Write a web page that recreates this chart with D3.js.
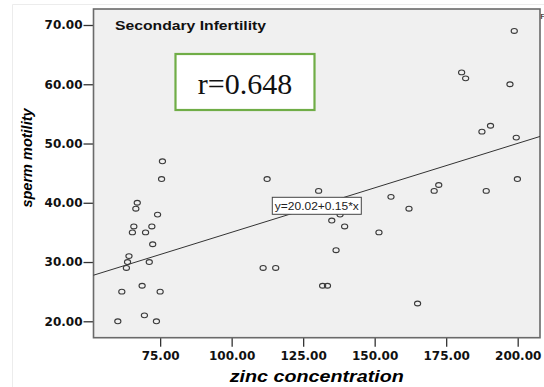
<!DOCTYPE html>
<html>
<head>
<meta charset="utf-8">
<script src="https://d3js.org/d3.v7.min.js"></script>
<style>
  body { margin: 0; background: #ffffff; }
</style>
</head>
<body>
<div id="my_dataviz"></div>
<script>
// data
var zinc = [60.2, 61.6, 63.2, 63.6, 64.1, 65.3, 65.8, 66.5, 67.0, 68.7,
            69.5, 69.9, 71.2, 72.1, 72.4, 73.7, 74.1, 75.0, 75.5, 75.8,
            111.0, 112.4, 115.4, 130.4, 131.8, 133.5, 135.0, 136.5, 137.9, 139.5,
            151.5, 155.7, 162.0, 165.0, 170.8, 172.4, 180.4, 181.8, 187.5, 189.0,
            190.5, 197.3, 198.8, 199.5, 199.9];
var motility = [20, 25, 29, 30, 31, 35, 36, 39, 40, 26,
                21, 35, 30, 36, 33, 20, 38, 25, 44, 47,
                29, 44, 29, 42, 26, 26, 37, 32, 38, 36,
                35, 41, 39, 23, 42, 43, 62, 61, 52, 42,
                53, 60, 69, 51, 44];
var xTicks = [75, 100, 125, 150, 175, 200];
var yTicks = [20, 30, 40, 50, 60, 70];
var fitIntercept = 20.02;
var fitSlope = 0.15;
var fitLabel = "y=20.02+0.15*x";
var rLabel = "r=0.648";
var groupTitle = "Secondary Infertility";
var xScaleTitle = "zinc concentration";
var yScaleTitle = "sperm motility";

var width = 544, height = 387;
var plot = {left: 93.5, right: 540, top: 9, bottom: 337.7};

var svg = d3.select("#my_dataviz")
  .append("svg")
    .attr("width", width)
    .attr("height", height);

// faint outer border of the original picture
svg.append("path")
  .attr("d", "M12.5," + height + "V4.5H" + width)
  .attr("fill", "none")
  .attr("stroke", "#ececec");

// ---------------------------//
//       AXIS  AND SCALE      //
// ---------------------------//
var x = d3.scaleLinear()
  .domain([51.7, 207.8])
  .range([plot.left, plot.right]);
var y = d3.scaleLinear()
  .domain([17.23, 72.7])
  .range([plot.bottom, plot.top]);

// plot background
svg.append("rect")
  .attr("x", plot.left)
  .attr("y", plot.top)
  .attr("width", plot.right - plot.left)
  .attr("height", plot.bottom - plot.top)
  .attr("fill", "#f0f0f0");

var xAxis = svg.append("g")
  .attr("transform", "translate(0," + plot.bottom + ")")
  .call(d3.axisBottom(x).tickValues(xTicks).tickSize(9).tickPadding(5)
    .tickFormat(d3.format(".2f")));
var yAxis = svg.append("g")
  .attr("transform", "translate(" + plot.left + ",0)")
  .call(d3.axisLeft(y).tickValues(yTicks).tickSize(10).tickPadding(1)
    .tickFormat(d3.format(".2f")));

[xAxis, yAxis].forEach(function(a) {
  a.select(".domain").remove();
  a.selectAll(".tick line").attr("stroke", "#333").attr("stroke-width", 1.3);
  a.selectAll(".tick text")
    .attr("fill", "#111")
    .attr("font-family", "DejaVu Sans")
    .attr("font-weight", 700)
    .attr("font-size", 12);
});

// frame
svg.append("rect")
  .attr("x", plot.left)
  .attr("y", plot.top)
  .attr("width", plot.right - plot.left)
  .attr("height", plot.bottom - plot.top)
  .attr("fill", "none")
  .attr("stroke", "#6a6a6a")
  .attr("stroke-width", 1.6);

// axis titles
svg.append("text")
  .attr("x", (plot.left + plot.right) / 2)
  .attr("y", 382)
  .attr("text-anchor", "middle")
  .attr("font-family", "Liberation Sans")
  .attr("font-weight", 700)
  .attr("font-style", "italic")
  .attr("font-size", 16.5)
  .attr("textLength", 174)
  .attr("lengthAdjust", "spacingAndGlyphs")
  .text(xScaleTitle);

svg.append("text")
  .attr("transform", "translate(32,158) rotate(-90)")
  .attr("text-anchor", "middle")
  .attr("font-family", "Liberation Sans")
  .attr("font-weight", 700)
  .attr("font-style", "italic")
  .attr("font-size", 14.5)
  .text(yScaleTitle);

// group title
svg.append("text")
  .attr("x", 115)
  .attr("y", 29.5)
  .attr("font-family", "Liberation Sans")
  .attr("font-weight", 700)
  .attr("font-size", 12)
  .attr("textLength", 151)
  .attr("lengthAdjust", "spacingAndGlyphs")
  .attr("fill", "#111")
  .text(groupTitle);

// small letter at the right edge
svg.append("text")
  .attr("x", 540.5)
  .attr("y", 19)
  .attr("font-family", "Liberation Sans")
  .attr("font-size", 8)
  .text("F");

// ---------------------------//
//       FIT LINE             //
// ---------------------------//
var xd = x.domain();
svg.append("line")
  .attr("x1", x(xd[0]))
  .attr("y1", y(fitIntercept + fitSlope * xd[0]))
  .attr("x2", x(xd[1]))
  .attr("y2", y(fitIntercept + fitSlope * xd[1]))
  .attr("stroke", "#333")
  .attr("stroke-width", 1);

// ---------------------------//
//       POINTS               //
// ---------------------------//
svg.append("g")
  .selectAll("ellipse")
  .data(zinc.map(function(d, i) { return {zinc: d, motility: motility[i]}; }))
  .enter()
  .append("ellipse")
    .attr("cx", function(d) { return x(d.zinc); })
    .attr("cy", function(d) { return y(d.motility); })
    .attr("rx", 3.1)
    .attr("ry", 2.4)
    .attr("fill", "none")
    .attr("stroke", "#3a3a3a")
    .attr("stroke-width", 1.1);

// fit equation label
svg.append("rect")
  .attr("x", 272.3)
  .attr("y", 197.3)
  .attr("width", 89)
  .attr("height", 17)
  .attr("fill", "#ffffff")
  .attr("stroke", "#444")
  .attr("stroke-width", 1);
svg.append("text")
  .attr("x", 316.8)
  .attr("y", 209.8)
  .attr("text-anchor", "middle")
  .attr("font-family", "Liberation Sans")
  .attr("font-size", 10.5)
  .attr("textLength", 84)
  .attr("lengthAdjust", "spacingAndGlyphs")
  .attr("fill", "#222")
  .text(fitLabel);

// correlation box
svg.append("rect")
  .attr("x", 175.5)
  .attr("y", 54)
  .attr("width", 139)
  .attr("height", 56)
  .attr("fill", "#ffffff")
  .attr("stroke", "#70ad47")
  .attr("stroke-width", 2.2);
svg.append("text")
  .attr("x", 245)
  .attr("y", 94)
  .attr("text-anchor", "middle")
  .attr("font-family", "Liberation Serif")
  .attr("font-size", 30)
  .attr("fill", "#111")
  .text(rLabel);
</script>
</body>
</html>
